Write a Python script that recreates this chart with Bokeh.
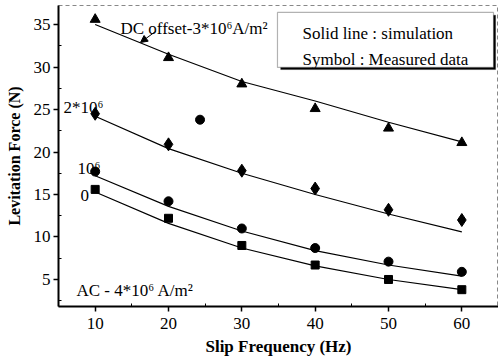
from bokeh.plotting import figure
from bokeh.models import Range1d, BoxAnnotation, Arrow, NormalHead, Label, FixedTicker
from bokeh.embed import file_html
from bokeh.resources import INLINE

freq = [10, 20, 30, 40, 50, 60]

# measured data (symbols)
meas_dc3 = [35.6, 31.1, 28.0, 25.1, 22.8, 21.1]   # DC offset 3*10^6 (triangles)
meas_dc2 = [24.5, 20.9, 17.8, 15.7, 13.2, 12.0]   # 2*10^6 (diamonds)
meas_dc1 = [17.7, 14.2, 11.0, 8.7, 7.1, 5.9]      # 10^6 (circles)
meas_dc0 = [15.6, 12.2, 9.0, 6.7, 5.0, 3.8]       # 0 (squares)
stray_x = [24.3]
stray_y = [23.8]

# simulation (solid lines)
sim_dc3 = [35.0, 31.5, 28.3, 26.0, 23.5, 21.2]
sim_dc2 = [24.2, 20.4, 17.5, 15.0, 12.7, 10.6]
sim_dc1 = [17.2, 13.6, 10.7, 8.4, 6.7, 5.4]
sim_dc0 = [15.3, 11.6, 8.7, 6.6, 5.0, 3.8]

x_ticks = [10, 20, 30, 40, 50, 60]
y_ticks = [5, 10, 15, 20, 25, 30, 35]

FONT = "'Liberation Serif'"

p = figure(width=498, height=359, x_range=Range1d(5, 65), y_range=Range1d(1.82, 37.24),
           output_backend="svg", toolbar_location=None,
           min_border_left=58, min_border_right=0, min_border_top=5, min_border_bottom=53)

p.xgrid.visible = False
p.ygrid.visible = False
p.outline_line_color = "#888888"
p.outline_line_dash = "4 3"
p.outline_line_width = 1
p.background_fill_color = "white"
p.border_fill_color = "white"

for ax in (p.xaxis[0], p.yaxis[0]):
    ax.axis_line_width = 2
    ax.axis_line_color = "black"
    ax.major_tick_line_width = 1.5
    ax.major_tick_out = 5
    ax.major_tick_in = 0
    ax.minor_tick_in = 3
    ax.minor_tick_out = 0
    ax.major_label_text_font = FONT
    ax.major_label_text_font_size = "17px"
    ax.major_label_text_color = "black"
    ax.axis_label_text_font = FONT
    ax.axis_label_text_font_style = "bold"
    ax.axis_label_text_color = "black"

p.xaxis.axis_label_text_font_size = "17px"
p.yaxis.axis_label_text_font_size = "16px"
p.xaxis.ticker = FixedTicker(ticks=x_ticks, minor_ticks=[15, 25, 35, 45, 55])
p.yaxis.ticker = FixedTicker(ticks=y_ticks, minor_ticks=[2.5, 7.5, 12.5, 17.5, 22.5, 27.5, 32.5])
p.xaxis.axis_label = "Slip Frequency (Hz)"
p.yaxis.axis_label = "Levitation Force (N)"
p.xaxis.axis_label_standoff = 5
p.yaxis.axis_label_standoff = 8
p.xaxis.major_label_standoff = 6
p.yaxis.major_label_standoff = 3

for s in (sim_dc3, sim_dc2, sim_dc1, sim_dc0):
    p.line(freq, s, line_color="black", line_width=1.2)

p.scatter(freq, meas_dc3, marker="triangle", size=10, color="black")
p.scatter(freq, meas_dc2, marker="diamond", size=13, color="black")
p.scatter(freq, meas_dc1, marker="circle", size=9, color="black")
p.scatter(freq, meas_dc0, marker="square", size=8, color="black")
p.scatter(stray_x, stray_y, marker="circle", size=9, color="black")

def lab(x, y, t, size="17px"):
    p.add_layout(Label(x=x, y=y, text=t, text_font=FONT, text_font_size=size,
                       text_color="black", text_baseline="alphabetic"))

lab(13.45, 34.53, "DC offset-3*10\u2076A/m\u00b2")
lab(5.68, 25.24, "2*10\u2076")
lab(7.59, 18.06, "10\u2076")
lab(8.0, 14.89, "0")
lab(7.45, 3.71, "AC - 4*10\u2076 A/m\u00b2")

p.add_layout(Arrow(end=NormalHead(size=7, fill_color="black", line_color="black"),
                   x_start=18.23, y_start=34.18, x_end=16.18, y_end=32.89,
                   line_color="black", line_width=1))

# legend box with shadow
p.add_layout(BoxAnnotation(left=35.3, right=64.6, top=36.1, bottom=29.7,
                           fill_color="black", fill_alpha=1, line_color="black"))
p.add_layout(BoxAnnotation(left=34.86, right=64.32, top=36.42, bottom=29.95,
                           fill_color="white", fill_alpha=1, line_color="black", line_width=1.2))
lab(38.27, 33.95, "Solid line : simulation")
lab(38.27, 30.89, "Symbol : Measured data")

open("out.html", "w").write(file_html(p, INLINE))
